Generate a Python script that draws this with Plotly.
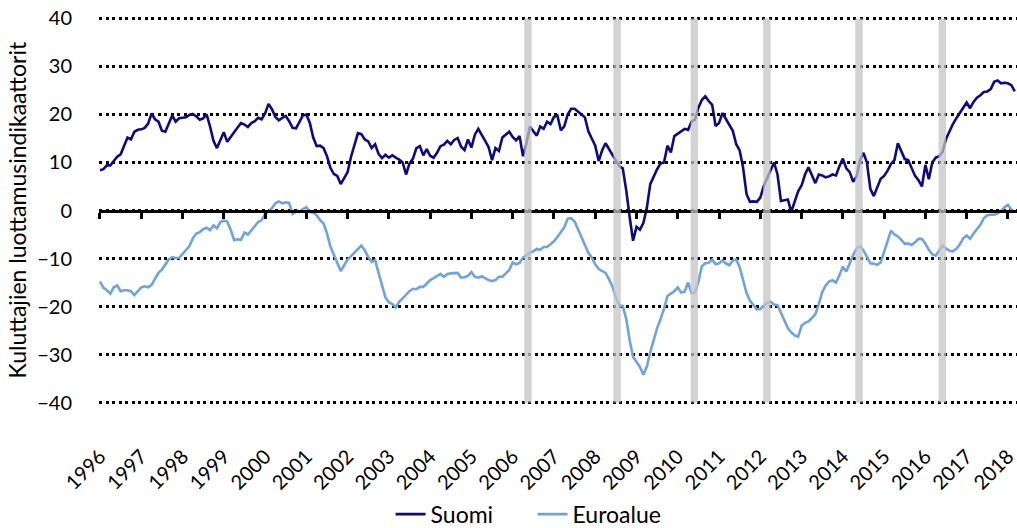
import plotly.graph_objects as go

start_year = 1996

suomi = [
    8.4, 8.6, 9.4, 9.4, 10.3, 11.2, 11.7, 13.4, 15.2, 14.8, 16.4, 16.8,   # 1996
    16.9, 17.2, 18.1, 20.2, 19.0, 18.5, 16.6, 16.4, 18.3, 19.8, 18.5, 19.2,  # 1997
    19.3, 19.4, 19.9, 20.1, 19.6, 18.9, 19.2, 20.0, 17.5, 14.5, 13.0, 14.5,  # 1998
    16.3, 14.3, 15.3, 16.5, 17.3, 18.2, 17.9, 17.4, 18.2, 18.6, 19.3, 19.0,  # 1999
    20.2, 22.2, 21.1, 19.5, 18.8, 19.3, 19.7, 18.6, 17.2, 17.1, 18.4, 19.8,  # 2000
    20.0, 18.3, 15.2, 13.4, 13.5, 13.0, 11.3, 8.9, 7.6, 7.2, 5.5, 6.8,       # 2001
    8.0, 11.2, 13.6, 16.1, 15.9, 14.8, 14.4, 13.0, 13.8, 11.8, 10.9, 11.6,   # 2002
    11.0, 11.5, 11.0, 10.6, 10.0, 7.5, 9.8, 10.8, 13.0, 13.4, 11.5, 12.8,    # 2003
    11.4, 11.0, 12.0, 13.4, 13.7, 14.5, 13.8, 14.7, 15.1, 13.3, 12.6, 14.8,  # 2004
    13.1, 15.8, 17.0, 15.6, 14.5, 13.2, 10.5, 13.0, 12.4, 15.2, 15.9, 16.4,  # 2005
    15.3, 14.6, 15.5, 11.3, 14.0, 17.5, 16.5, 15.6, 17.5, 17.0, 18.5, 18.0,  # 2006
    19.5, 19.8, 16.7, 17.5, 20.0, 21.2, 21.2, 20.5, 20.0, 19.4, 16.5, 15.0,  # 2007
    13.5, 10.3, 12.5, 14.0, 12.8, 11.5, 10.3, 9.2, 8.8, 4.3, -1.3, -6.3,     # 2008
    -3.4, -4.0, -2.6, 0.5, 5.5, 7.2, 8.6, 9.8, 10.0, 13.5, 12.1, 15.5,       # 2009
    16.0, 16.4, 17.0, 16.8, 18.5, 18.9, 21.4, 23.0, 23.8, 22.8, 22.0, 17.6,  # 2010
    18.2, 20.3, 19.1, 18.1, 16.6, 13.8, 12.5, 8.9, 3.4, 1.8, 1.9, 1.8,       # 2011
    2.7, 5.1, 6.9, 8.4, 10.0, 7.5, 2.0, 2.1, 2.3, -0.3, 1.8, 4.0,            # 2012
    5.2, 7.5, 9.0, 7.5, 5.7, 7.5, 7.3, 6.9, 7.1, 7.5, 7.3, 9.2,              # 2013
    10.8, 8.8, 8.0, 6.0, 7.1, 10.5, 12.0, 10.0, 4.5, 3.0, 4.8, 6.6,          # 2014
    7.2, 8.3, 9.7, 10.5, 14.0, 12.5, 10.7, 10.5, 9.0, 7.2, 6.3, 5.0,         # 2015
    9.5, 6.5, 10.0, 11.0, 11.3, 12.2, 14.9, 16.5, 18.0, 19.2, 20.3, 21.5,    # 2016
    22.5, 21.3, 22.6, 23.5, 24.0, 24.7, 24.8, 25.3, 26.8, 27.1, 26.5, 26.6,  # 2017
    26.5, 26.1, 24.8,                                                        # 2018
]

euroalue = [
    -14.8, -16.1, -16.6, -17.3, -16.0, -15.6, -16.8, -16.6, -16.6, -16.8, -17.6, -16.7,  # 1996
    -16.0, -15.8, -16.0, -15.5, -14.1, -13.0, -12.3, -11.3, -10.2, -9.7, -9.9, -9.9,     # 1997
    -9.1, -8.2, -7.4, -5.8, -4.8, -4.5, -3.9, -3.6, -4.1, -3.1, -3.7, -2.4,              # 1998
    -2.1, -2.3, -4.0, -6.2, -6.0, -6.1, -4.6, -5.0, -4.1, -3.1, -2.4, -2.0,              # 1999
    -0.7, -0.2, 0.5, 1.5, 1.9, 1.5, 1.7, 1.6, -0.7, -0.2, -0.2, 0.3,                     # 2000
    0.7, -0.3, -0.4, -1.0, -2.0, -2.7, -4.7, -7.5, -9.1, -10.8, -12.6, -11.4,            # 2001
    -10.2, -9.5, -8.8, -8.2, -7.3, -8.3, -9.7, -10.7, -10.3, -13.0, -15.7, -18.1,        # 2002
    -19.1, -19.5, -20.2, -19.0, -18.3, -17.5, -16.8, -16.3, -16.4, -15.9, -15.9, -15.2,  # 2003
    -14.5, -14.1, -13.6, -13.2, -13.8, -13.2, -13.1, -13.1, -13.0, -14.0, -13.9, -13.6,  # 2004
    -12.8, -13.8, -14.0, -13.7, -14.1, -14.5, -14.7, -14.5, -13.8, -13.8, -13.1, -12.4,  # 2005
    -10.8, -11.2, -10.9, -9.8, -9.3, -8.8, -8.5, -8.0, -8.2, -7.6, -7.6, -7.0,           # 2006
    -6.4, -5.5, -4.6, -3.5, -1.7, -1.6, -2.3, -4.0, -5.3, -7.3, -8.8, -9.8,              # 2007
    -11.2, -12.2, -12.6, -13.0, -14.3, -15.8, -18.2, -19.7, -19.9, -22.5, -27.0, -30.5,  # 2008
    -31.5, -32.6, -34.2, -32.5, -29.5, -26.8, -24.5, -22.6, -20.5, -17.8, -17.2, -16.8,  # 2009
    -16.0, -17.1, -16.9, -15.0, -17.2, -17.0, -14.8, -11.6, -11.0, -10.9, -10.2, -11.2,  # 2010
    -11.0, -10.4, -11.0, -11.4, -10.4, -10.2, -11.8, -14.6, -17.2, -18.8, -19.6, -20.6,  # 2011
    -20.5, -19.9, -19.2, -19.0, -19.6, -19.7, -21.3, -23.0, -24.5, -25.4, -26.0, -26.3,  # 2012
    -24.0, -23.4, -23.1, -22.4, -21.6, -19.5, -17.0, -15.6, -14.8, -14.5, -15.0, -13.5,  # 2013
    -11.7, -12.7, -10.9, -9.3, -7.9, -7.4, -8.3, -9.7, -11.0, -11.1, -11.3, -10.8,       # 2014
    -8.6, -6.3, -4.2, -5.0, -5.4, -6.1, -6.9, -6.9, -7.2, -6.6, -5.9, -5.9,              # 2015
    -6.9, -8.2, -9.1, -9.4, -8.2, -7.3, -7.9, -8.4, -8.5, -8.0, -7.1, -5.8,              # 2016
    -5.2, -5.9, -4.8, -3.8, -3.0, -1.6, -1.0, -0.9, -0.9, -0.6, -0.1, 0.7,               # 2017
    1.2, 0.2, -0.3,                                                                      # 2018
]

year_ticks = list(range(1996, 2019))
year_labels = [str(y) for y in year_ticks]
y_ticks = [-40, -30, -20, -10, 0, 10, 20, 30, 40]
band_centers = [2006.37, 2008.53, 2010.40, 2012.16, 2014.39, 2016.41]
band_halfwidth = 0.09
y_title = "Kuluttajien luottamusindikaattorit"

months = [start_year + i / 12 for i in range(len(suomi))]
months_e = [start_year + i / 12 for i in range(len(euroalue))]

FONT = "Lato, 'Open Sans', sans-serif"
x_range = [1995.976, 2018.22]
y_range = [-40.3, 40.3]

W, H = 1017, 528
ML, MR, MT = 99, 0, 16.5
MB = H - 404.5
plot_h = H - MT - MB
plot_w = W - ML - MR

fig = go.Figure()
fig.add_trace(go.Scatter(x=months, y=suomi, mode="lines", name="Suomi",
                         line=dict(color="#0c0c80", width=2.6)))
fig.add_trace(go.Scatter(x=months_e, y=euroalue, mode="lines", name="Euroalue",
                         xaxis="x2", line=dict(color="#6fa3de", width=2.6)))

for c in band_centers:
    fig.add_shape(type="rect", xref="x", yref="y", x0=c - band_halfwidth, x1=c + band_halfwidth,
                  y0=-40, y1=40, layer="above", line=dict(width=0),
                  fillcolor="rgba(196,196,196,0.75)")

fig.add_annotation(text=y_title, textangle=-90, xref="paper", yref="paper",
                   x=-ML / plot_w, y=0.5, xanchor="left", yanchor="middle",
                   showarrow=False, font=dict(size=23, color="#000000"))

fig.update_layout(
    width=W, height=H,
    margin=dict(l=ML, r=MR, t=MT, b=MB, autoexpand=False),
    paper_bgcolor="white", plot_bgcolor="white",
    font=dict(family=FONT, size=18, color="#000000"),
    showlegend=True,
    legend=dict(orientation="h", x=0.3176, xanchor="left",
                y=-(515 - 404.5) / plot_h, yanchor="middle",
                entrywidth=97, entrywidthmode="pixels",
                font=dict(size=23), bgcolor="rgba(0,0,0,0)"),
    xaxis=dict(range=x_range, tickmode="array", tickvals=year_ticks, ticktext=year_labels,
               tickangle=-45, ticks="outside", ticklen=32, tickcolor="rgba(0,0,0,0)",
               showgrid=False, zeroline=False, showline=False, automargin=False,
               ticklabeloverflow="allow",
               tickfont=dict(size=20, color="#000000")),
    xaxis2=dict(overlaying="x", anchor="free", position=0.5, side="bottom",
                range=x_range, tickmode="array", tickvals=year_ticks,
                ticks="outside", ticklen=6, tickwidth=3, tickcolor="#000000",
                showticklabels=False, showline=True, linecolor="#000000", linewidth=3,
                showgrid=False, zeroline=False, automargin=False),
    yaxis=dict(range=y_range, tickmode="array", tickvals=y_ticks,
               showgrid=True, gridcolor="#000000", gridwidth=3, griddash="3px,3.5px",
               zeroline=False, showline=False, automargin=False,
               ticklabeloverflow="allow",
               ticks="outside", ticklen=22, tickcolor="rgba(0,0,0,0)",
               tickfont=dict(size=20, color="#000000")),
)

fig.write_html("out.html", config={"displayModeBar": False},
               post_script="document.body.style.margin='0px';")
